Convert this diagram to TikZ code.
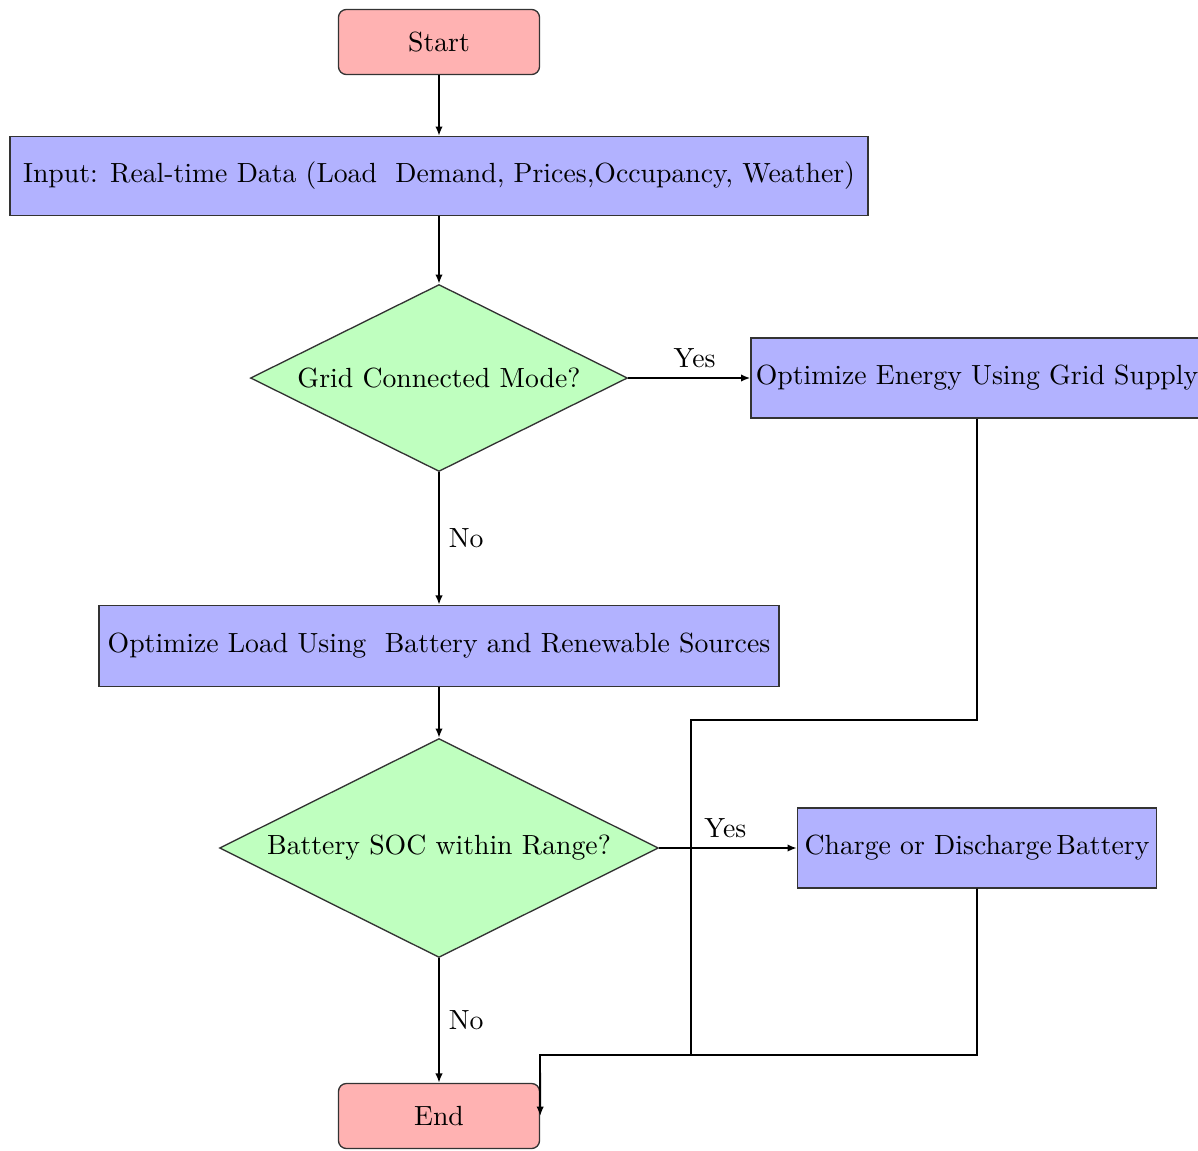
\documentclass[tikz,border=0pt]{standalone}
\usetikzlibrary{shapes.geometric,arrows.meta}
\begin{document}
\begin{tikzpicture}[x=0.375pt,y=-0.375pt,
  every node/.style={font=\fontsize{10.4}{12.5}\selectfont},
  base/.style={draw=black!80,line width=0.5pt,inner sep=1pt,align=center},
  term/.style={base,rounded corners=3pt,fill=red!30,minimum width=75.4pt,minimum height=24.4pt},
  proc/.style={base,rectangle,fill=blue!30,minimum height=30pt},
  decide/.style={base,diamond,aspect=2,fill=green!25},
  conn/.style={line width=0.7pt,-{Latex[length=3.5pt,width=2.8pt]}},
  line/.style={line width=0.7pt},
  lbl/.style={}]
\useasboundingbox (0,0) rectangle (1198,1150);

% nodes
\node[term] (start) at (439,42) {Start};
\node[proc,minimum width=321.75pt,minimum height=29.6pt] (input) at (439,176)
  {Input: Real-time Data (Load\ \ Demand, Prices,Occupancy, Weather)};
\node[decide,minimum width=141.4pt,minimum height=70.1pt] (grid) at (439,378) {Grid Connected Mode?};
\node[proc,minimum width=169.5pt] (gridopt) at (977,378) {Optimize Energy Using Grid Supply};
\node[proc,minimum width=255pt,minimum height=30.4pt] (loadopt) at (439,646)
  {Optimize Load Using\ \ Battery and Renewable Sources};
\node[decide,minimum width=164.6pt,minimum height=82.1pt] (soc) at (439,848) {Battery SOC within Range?};
\node[proc,minimum width=134.6pt] (charge) at (977,848) {Charge or Discharge\,Battery};
\node[term] (end) at (439,1116) {End};

% junction points of the return lines
\coordinate (gbend) at (977,720);
\coordinate (gcorner) at (691,720);
\coordinate (gjoin) at (691,1055);
\coordinate (cbend) at (977,1055);
\coordinate (ecorner) at (540,1055);

% main flow
\draw[conn] (start) -- (input);
\draw[conn] (input) -- (grid);
\draw[conn] (grid.east) -- node[above,lbl,xshift=2pt] {Yes} (gridopt.west);
\draw[conn] (grid.south) -- node[right,lbl] {No} (loadopt.north);
\draw[conn] (loadopt) -- (soc);
\draw[conn] (soc.east) -- node[above,lbl,xshift=-1pt] {Yes} (charge.west);
\draw[conn] (soc.south) -- node[right,lbl] {No} (end.north);

% return lines to End
\draw[line] (gridopt.south) -- (gbend) -- (gcorner) -- (gjoin);
\draw[conn] (charge.south) -- (cbend) -- (ecorner) -- (end.east);
\end{tikzpicture}
\end{document}
